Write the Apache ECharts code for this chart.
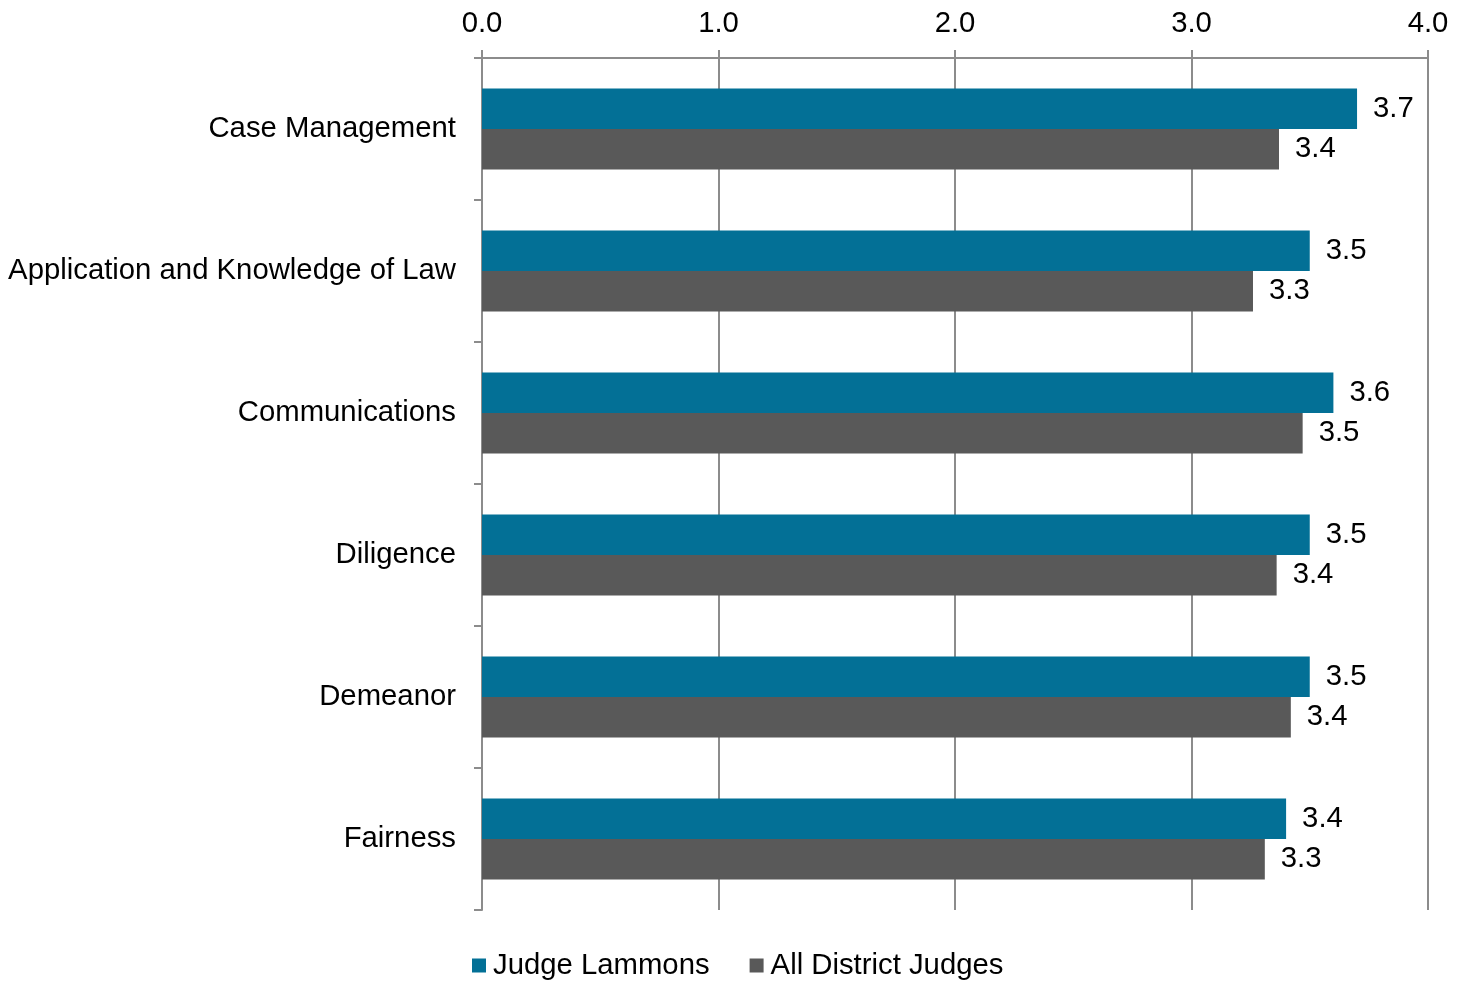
<!DOCTYPE html>
<html>
<head>
<meta charset="utf-8">
<script src="https://cdn.jsdelivr.net/npm/echarts@6/dist/echarts.min.js"></script>
<style>
html,body{margin:0;padding:0;background:#fff;}
#chart{width:1468px;height:983px;}
</style>
</head>
<body>
<div id="chart"></div>
<script>
const categories = ["Case Management","Application and Knowledge of Law","Communications","Diligence","Demeanor","Fairness"];
const seriesNames = ["Judge Lammons","All District Judges"];
const lammons = [3.70, 3.50, 3.60, 3.50, 3.50, 3.40];
const allJudges = [3.37, 3.26, 3.47, 3.36, 3.42, 3.31];
const xTicks = [0, 1, 2, 3, 4];

const font = "'Liberation Sans', Arial, sans-serif";
const fs = 29.3;
const chart = echarts.init(document.getElementById('chart'));
const labelCfg = {
  show: true, position: 'right', distance: 16,
  color: '#000', fontSize: fs, fontFamily: font, padding: [5, 0, 0, 0],
  formatter: p => p.value.toFixed(1)
};
chart.setOption({
  animation: false,
  grid: {left: 482, right: 40, top: 58, bottom: 73},
  legend: {
    bottom: -2, left: 467,
    itemWidth: 14, itemHeight: 14, itemGap: 40,
    icon: 'rect',
    textStyle: {fontSize: fs, fontFamily: font, color: '#000', padding: [0,0,0,2]},
    data: seriesNames
  },
  xAxis: {
    type: 'value', position: 'top', min: xTicks[0], max: xTicks[xTicks.length-1], interval: 1,
    axisLine: {show: true, lineStyle: {color: '#8c8c8c', width: 2}},
    axisTick: {show: true, length: 8, lineStyle: {color: '#8c8c8c', width: 2}},
    splitLine: {show: true, lineStyle: {color: '#8c8c8c', width: 2}},
    axisLabel: {margin: 20, fontSize: fs, fontFamily: font, color: '#000', formatter: v => v.toFixed(1)}
  },
  yAxis: {
    type: 'category', inverse: true, data: categories,
    axisLine: {show: true, lineStyle: {color: '#8c8c8c', width: 2}},
    axisTick: {show: true, length: 8, lineStyle: {color: '#8c8c8c', width: 2}},
    axisLabel: {margin: 26, fontSize: fs, fontFamily: font, color: '#000'}
  },
  series: [
    {name: seriesNames[0], type: 'bar', data: lammons, barGap: '0%', barCategoryGap: '43%',
     itemStyle: {color: '#037096'}, label: labelCfg},
    {name: seriesNames[1], type: 'bar', data: allJudges, barGap: '0%', barCategoryGap: '43%',
     itemStyle: {color: '#595959'}, label: labelCfg}
  ]
});
</script>
</body>
</html>
